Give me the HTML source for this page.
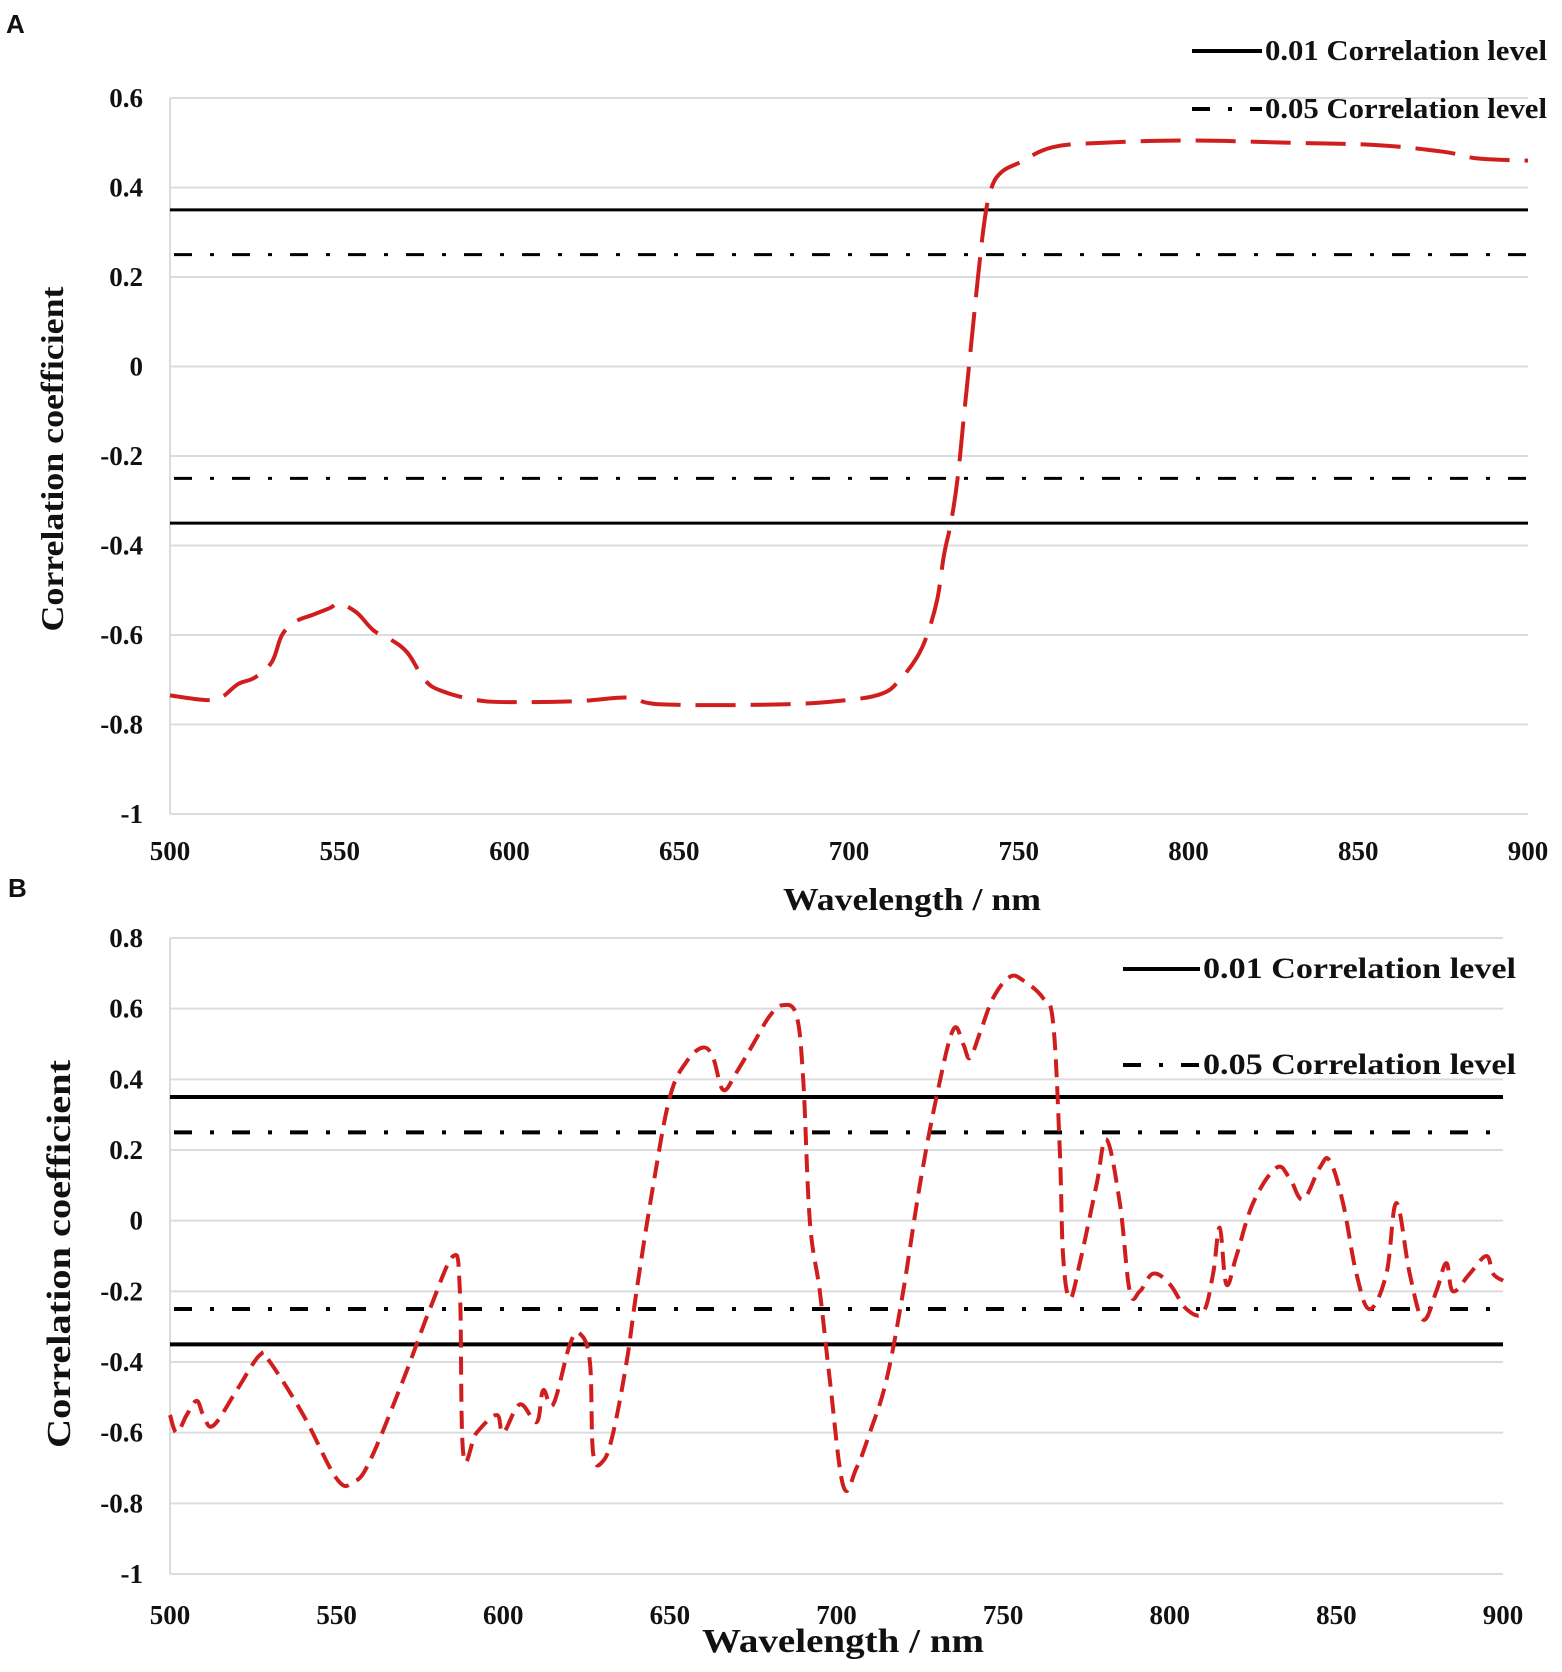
<!DOCTYPE html>
<html><head><meta charset="utf-8"><style>
body{margin:0;background:#fff}
svg text{font-family:"Liberation Serif",serif;font-weight:bold;fill:#111}
</style></head><body>
<svg id="chart" width="1562" height="1667" viewBox="0 0 1562 1667" xmlns="http://www.w3.org/2000/svg">
<g id="pa"></g>
<g id="pb"></g>
</svg>
<script>
const aWl=[500,510,515,520,525,530,533,537,542,547,550,555,560,565,570,575,580,590,600,620,635,645,680,700,710,715,720,723,726,728,730,732,734,736,738,740,742,745,750,760,775,800,830,855,875,885,900];
const aVal=[-0.735,-0.745,-0.74,-0.71,-0.695,-0.66,-0.6,-0.57,-0.555,-0.54,-0.53,-0.55,-0.59,-0.61,-0.64,-0.7,-0.725,-0.745,-0.75,-0.748,-0.74,-0.755,-0.755,-0.745,-0.73,-0.7,-0.65,-0.6,-0.52,-0.42,-0.35,-0.25,-0.1,0.05,0.2,0.33,0.4,0.435,0.455,0.49,0.5,0.505,0.5,0.495,0.48,0.465,0.46];
const bWl=[500,502,505,508,510,513,520,527,530,540,550,555,560,570,578,585,587,588,592,598,600,605,610,612,615,620,623,626,627,630,633,637,640,645,650,655,660,663,666,670,675,680,684,688,690,692,695,698,702,706,710,715,720,725,730,735,738,740,743,747,752,756,762,765,767,768,770,773,778,781,785,788,791,795,800,805,810,813,815,817,820,825,832,836,840,845,848,852,856,860,865,868,872,876,880,883,885,890,895,897,900];
const bVal=[-0.55,-0.6,-0.55,-0.51,-0.55,-0.58,-0.48,-0.38,-0.4,-0.55,-0.73,-0.74,-0.68,-0.45,-0.25,-0.1,-0.2,-0.66,-0.6,-0.55,-0.6,-0.52,-0.57,-0.48,-0.52,-0.35,-0.32,-0.4,-0.66,-0.68,-0.6,-0.4,-0.2,0.1,0.35,0.45,0.49,0.46,0.37,0.42,0.5,0.58,0.61,0.58,0.4,0.0,-0.2,-0.45,-0.75,-0.7,-0.6,-0.45,-0.2,0.1,0.35,0.54,0.5,0.46,0.53,0.63,0.69,0.68,0.63,0.56,0.2,-0.1,-0.22,-0.12,0.1,0.23,0.05,-0.2,-0.2,-0.15,-0.18,-0.25,-0.26,-0.15,-0.02,-0.18,-0.1,0.05,0.15,0.12,0.06,0.15,0.17,0.05,-0.15,-0.25,-0.15,0.05,-0.15,-0.28,-0.2,-0.12,-0.2,-0.15,-0.1,-0.15,-0.17];
const xTicks=[500,550,600,650,700,750,800,850,900];
const aYTicks=[0.6,0.4,0.2,0,-0.2,-0.4,-0.6,-0.8,-1];
const bYTicks=[0.8,0.6,0.4,0.2,0,-0.2,-0.4,-0.6,-0.8,-1];
const refSolid=[0.35,-0.35];
const refDash=[0.25,-0.25];
const NS="http://www.w3.org/2000/svg";
function mk(p,t,a,txt){const e=document.createElementNS(NS,t);for(const k in a)e.setAttribute(k,a[k]);if(txt!==undefined)e.textContent=txt;p.appendChild(e);return e;}
function smooth(pts){
 let d='M'+pts[0][0].toFixed(1)+' '+pts[0][1].toFixed(1);
 for(let i=0;i<pts.length-1;i++){
  const p0=pts[Math.max(0,i-1)],p1=pts[i],p2=pts[i+1],p3=pts[Math.min(pts.length-1,i+2)];
  const t=0.18;
  const c1=[p1[0]+(p2[0]-p0[0])*t,p1[1]+(p2[1]-p0[1])*t];
  const c2=[p2[0]-(p3[0]-p1[0])*t,p2[1]-(p3[1]-p1[1])*t];
  d+=' C'+c1[0].toFixed(1)+' '+c1[1].toFixed(1)+' '+c2[0].toFixed(1)+' '+c2[1].toFixed(1)+' '+p2[0].toFixed(1)+' '+p2[1].toFixed(1);
 }
 return d;
}
function panel(g,o){
 const X=v=>o.l+(v-500)/400*(o.r-o.l);
 const Y=v=>o.t+(o.ymax-v)/(o.ymax-o.ymin)*(o.b-o.t);
 o.yt.forEach(v=>{const l=mk(g,'line',{x1:o.l,x2:o.r,y1:Y(v),y2:Y(v),stroke:'#dcdcdc','stroke-width':2});
 
 const t=mk(g,'text',{x:o.l-27,y:Y(v)+9,'text-anchor':'end','font-size':27},String(v));
 });
 const ax=mk(g,'line',{x1:o.l,x2:o.l,y1:o.t,y2:o.b,stroke:'#dcdcdc','stroke-width':2});
 
 xTicks.forEach(v=>{const t=mk(g,'text',{x:X(v),y:o.xly,'text-anchor':'middle','font-size':27},String(v));
 });
 refSolid.forEach(v=>{const l=mk(g,'line',{x1:o.l,x2:o.r,y1:Y(v),y2:Y(v),stroke:'#000','stroke-width':o.rw});
 });
 refDash.forEach(v=>{const l=mk(g,'line',{x1:o.l+4,x2:o.r,y1:Y(v),y2:Y(v),stroke:'#000','stroke-width':o.rw,'stroke-dasharray':'18 18 4 18'});
 });
 const pts=o.wl.map((w,i)=>[X(w),Y(o.val[i])]);
 const p=mk(g,'path',{d:smooth(pts),fill:'none',stroke:'#d01e1e','stroke-width':4,'stroke-dasharray':o.dash,'stroke-linejoin':'round'});
 
 const xt=mk(g,'text',{x:o.xtx,y:o.xty,'text-anchor':'middle','font-size':o.tfs,textLength:o.xtl,lengthAdjust:'spacingAndGlyphs'},'Wavelength / nm');
 
 const yt=mk(g,'text',{x:0,y:0,'text-anchor':'middle','font-size':o.tfs,textLength:o.ytl,lengthAdjust:'spacingAndGlyphs',transform:`translate(${o.ytx},${o.yty}) rotate(-90)`,'xml:space':'preserve'},o.ytitle);
 
 const pl=mk(g,'text',{x:o.lab[0],y:o.lab[1],'font-size':26,style:'font-family:"Liberation Sans",sans-serif'},o.label);
 
 [[o.lg[2],'0.01 Correlation level',null],[o.lg[3],'0.05 Correlation level','18 18 4 18']].forEach(([y,s,da])=>{
  const a={x1:o.lg[0],x2:o.lg[1],y1:y,y2:y,stroke:'#000','stroke-width':4};if(da)a['stroke-dasharray']=da;
  const ll=mk(g,'line',a);
  const lt=mk(g,'text',{x:o.lg[1]+3,y:y+9,'font-size':o.lfs,textLength:o.ltl,lengthAdjust:'spacingAndGlyphs'},s);});
}
panel(document.getElementById('pa'),{l:170,r:1528,t:98,b:814,ymax:0.6,ymin:-1,yt:aYTicks,xly:860,rw:3,wl:aWl,val:aVal,dash:'40 15',xtx:912,xty:910,xtl:258,ytx:63,yty:459,ytl:345,tfs:32,ytitle:'Correlation coefficient',label:'A',lab:[6,33],lg:[1192,1262,51,109],lfs:28,ltl:282});
panel(document.getElementById('pb'),{l:170,r:1503,t:938,b:1574,ymax:0.8,ymin:-1,yt:bYTicks,xly:1624,rw:4,wl:bWl,val:bVal,dash:'18 9',xtx:843,xty:1652,xtl:282,ytx:70,yty:1254,ytl:388,tfs:34,ytitle:'Correlation  coefficient',label:'B',lab:[8,897],lg:[1123,1200,969,1065],lfs:30,ltl:313});
</script>
</body></html>
